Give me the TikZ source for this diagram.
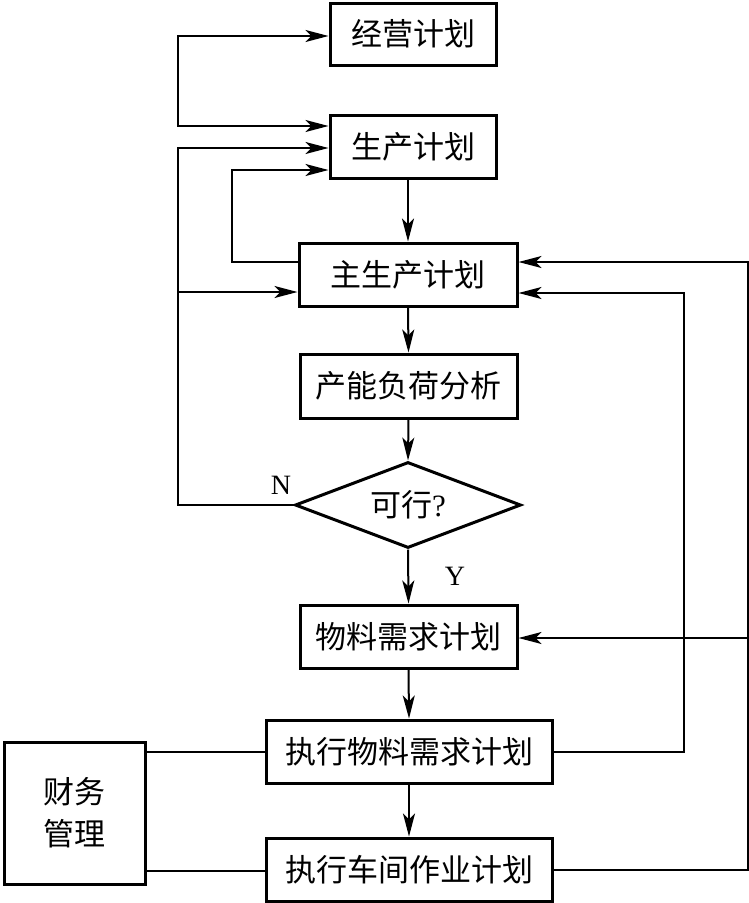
\documentclass[tikz,border=0pt]{standalone}
\usepackage{fontspec}
\setmainfont{Liberation Serif}
\newfontfamily\cjk{Noto Sans CJK SC}
\usetikzlibrary{arrows.meta,shapes.geometric,calc}
\begin{document}
\begin{tikzpicture}[x=1pt,y=-1pt,
  box/.style={draw,line width=3pt,inner sep=0pt,font=\cjk\fontsize{31}{36}\selectfont},
  dia/.style={draw,line width=3pt,diamond,inner sep=0pt,shape aspect=2.63,minimum width=226pt,minimum height=86pt,font=\fontsize{31}{36}\selectfont},
  conn/.style={line width=2pt},
  tip/.style={Stealth[length=23pt,width=12pt,inset=6pt]},
  arr/.style={line width=2pt,-{Stealth[length=23pt,width=12pt,inset=6pt]}},
  lbl/.style={font=\fontsize{28}{30}\selectfont,inner sep=0pt}]
\useasboundingbox (0,0) rectangle (749,903);
\node[box,minimum width=166pt,minimum height=62pt] (jy) at (413,34) {经营计划};
\node[box,minimum width=166pt,minimum height=63pt] (sc) at (413,146.5) {生产计划};
\node[box,minimum width=218pt,minimum height=63pt] (zsc) at (408,274.5) {主生产计划};
\node[box,minimum width=217pt,minimum height=64pt] (cn) at (408.5,386) {产能负荷分析};
\node[dia] (kx) at (408,505) {{\cjk 可行}?};
\node[box,minimum width=217pt,minimum height=63pt] (wl) at (408.5,636.5) {物料需求计划};
\node[box,minimum width=286pt,minimum height=63pt] (zxwl) at (409,751.5) {执行物料需求计划};
\node[box,minimum width=286pt,minimum height=63pt] (zxcj) at (409,869.5) {执行车间作业计划};
\node[box,minimum width=141pt,minimum height=142pt,align=center,font=\cjk\fontsize{31}{42}\selectfont] (cw) at (74.5,813) {财务\\管理};
\node[lbl] (nl) at (281,485) {N};
\node[lbl] (yl) at (455,576) {Y};
\coordinate (L1) at (178,126);
\coordinate (L2) at (178,148);
\coordinate (L3) at (178,292);
\coordinate (L4) at (232,170);
\coordinate (L5) at (232,262);
\coordinate (R1) at (684,293);
\coordinate (R2) at (748,262);
\coordinate (R3) at (748,638);
% main column
\draw[arr] (zsc.north |- sc.south) -- (zsc.north);
\draw[arr] (zsc.south) -- (cn.north);
\draw[arr] (cn.south) -- (kx.north);
\draw[arr] (kx.south) -- (wl.north);
\draw[arr] (wl.south) -- (zxwl.north);
\draw[arr] (zxwl.south) -- (zxcj.north);
% top loop
\draw[line width=2pt,{Stealth[length=23pt,width=12pt,inset=6pt]}-{Stealth[length=23pt,width=12pt,inset=6pt]}]
  ($(jy.west)+(0,2)$) -| (L1) -- (sc.west |- L1);
% N loop
\draw[arr] (kx.west) -| (L2) -- (sc.west |- L2);
\draw[arr] (L3) -- (zsc.west |- L3);
% inner loop
\draw[arr] (zsc.west |- L5) -| (L4) -- (sc.west |- L4);
% right loops
\draw[arr] (zxwl.east) -| (R1) -- (zsc.east |- R1);
\draw[arr] (zxcj.east) -| (R2) -- (zsc.east |- R2);
\draw[arr] (R3) -- (wl.east |- R3);
% finance
\draw[conn] (cw.east |- zxwl.west) -- (zxwl.west);
\draw[conn] ($(cw.east |- zxcj.west)+(0,1.5)$) -- ($(zxcj.west)+(0,1.5)$);
\end{tikzpicture}
\end{document}
